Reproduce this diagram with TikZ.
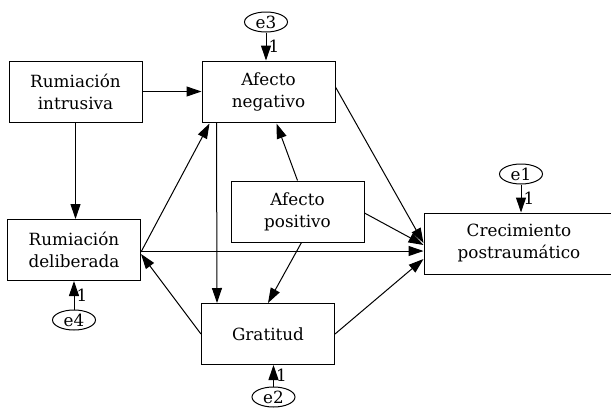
\documentclass[tikz,border=0pt]{standalone}
\usepackage{fontspec}
\setmainfont{DejaVu Serif}
\usetikzlibrary{arrows.meta, calc, positioning, shapes.geometric}

\begin{document}
\begin{tikzpicture}[x=0.5pt, y=-0.5pt, >={Triangle[length=7.5pt, width=5pt]}, font=\fontsize{8.4}{11}\selectfont,
    var/.style={draw, line width=0.5pt, minimum width=66.5pt, minimum height=30.5pt, align=center, inner sep=0pt},
    err/.style={draw, ellipse, line width=0.5pt, minimum width=21.5pt, minimum height=10pt, inner sep=0pt},
    conn/.style={->, line width=0.5pt}]
    \useasboundingbox (0,0) rectangle (611,414);

    % Observed variables
    \node[var] (intr) at (75.5,91.5) {Rumiación\\intrusiva};
    \node[var] (neg) at (268.5,91.5) {Afecto\\negativo};
    \node[var] (delib) at (74,250) {Rumiación\\deliberada};
    \node[var] (pos) at (297.5,211.5) {Afecto\\positivo};
    \node[var] (grat) at (268,334) {Gratitud};
    \node[var, minimum width=95pt] (crec) at (519,243.5) {Crecimiento\\postraumático};

    % Error terms
    \node[err] (e3) at (266,22) {e3};
    \node[err] (e1) at (521,174) {e1};
    \node[err] (e2) at (273.5,397) {e2};
    \node[err] (e4) at (74,320) {e4};

    % Paths
    \draw[conn] (intr) -- (neg);
    \draw[conn] (intr.south) -- (intr.south |- delib.north);
    \draw[conn] ($(delib.east)+(0,2)$) -- ($(neg.south west)+(8,1)$);
    \draw[conn] ($(delib.east)+(0,1)$) -- ($(crec.west)+(0,7.5)$);
    \draw[conn] (grat.west) -- ($(delib.east)+(0,4)$);
    \draw[conn] ($(neg.south west)+(15,0)$) -- ($(grat.north west)+(16,0)$);
    \draw[conn] (pos.north) -- ($(neg.south)+(8,1)$);
    \draw[conn] ($(pos.south)+(4,0)$) -- (grat.north);
    \draw[conn] ($(pos.east)+(0,1.5)$) -- ($(crec.west)+(0,1.5)$);
    \draw[conn] ($(neg.east)+(0,-4.5)$) -- ($(crec.west)+(0,-0.5)$);
    \draw[conn] (grat.east) -- ($(crec.west)+(0,15.5)$);

    % Error paths
    \draw[conn] (e3) -- (neg.north -| e3) node[midway, right, inner sep=1pt] {1};
    \draw[conn] (e1) -- (e1 |- crec.north) node[midway, right, inner sep=1pt] {1};
    \draw[conn] (e2) -- (e2 |- grat.south) node[midway, right, inner sep=1pt] {1};
    \draw[conn] (e4) -- (e4 |- delib.south) node[midway, right, inner sep=1pt] {1};
\end{tikzpicture}
\end{document}
